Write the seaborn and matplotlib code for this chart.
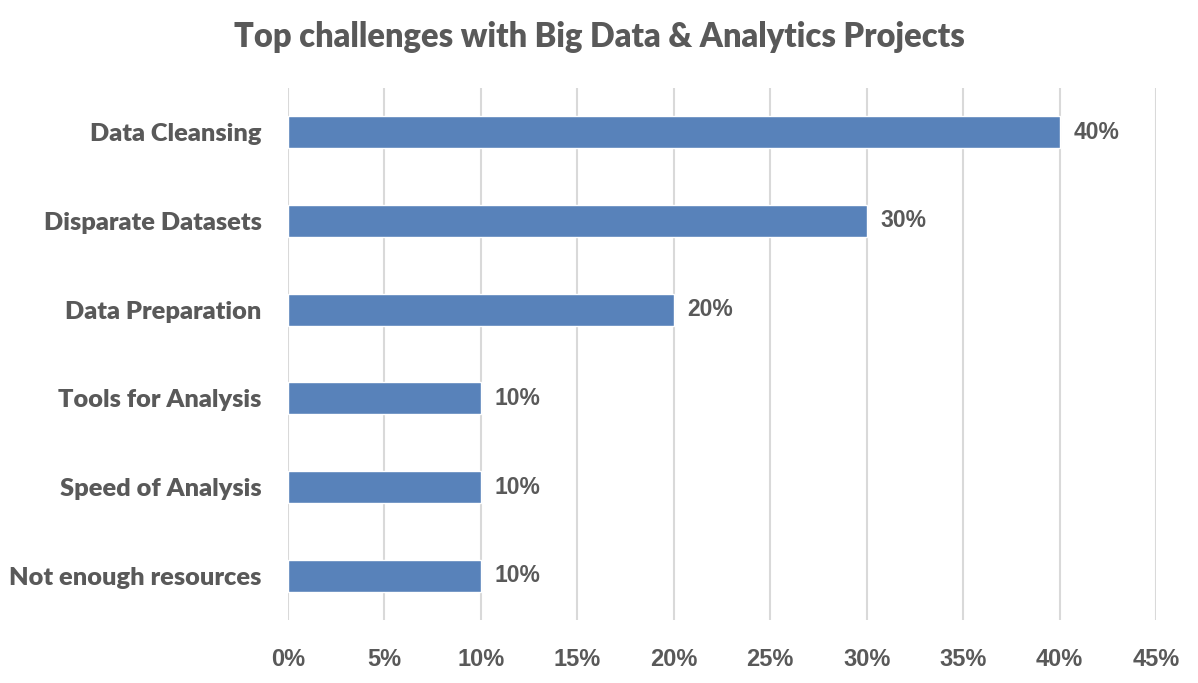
import matplotlib
matplotlib.use("Agg")
import matplotlib.pyplot as plt
import matplotlib.ticker as mticker
import pandas as pd
import seaborn as sns

categories = ["Data Cleansing", "Disparate Datasets", "Data Preparation",
              "Tools for Analysis", "Speed of Analysis", "Not enough resources"]
shares = [40, 30, 20, 10, 10, 10]
x_ticks = [0, 5, 10, 15, 20, 25, 30, 35, 40, 45]
title = "Top challenges with Big Data & Analytics Projects"

text_color = "#595959"
bar_color = "#5882BA"
grid_color = "#D9D9D9"

df = pd.DataFrame({"challenge": categories, "share": shares})

sns.set_theme(style="white")
plt.rcParams["font.family"] = ["Lato", "DejaVu Sans"]

fig = plt.figure(figsize=(11.98, 6.83), dpi=100)
ax = fig.add_axes([0.2404, 0.0922, 0.7246, 0.779])

sns.barplot(data=df, x="share", y="challenge", orient="h", color=bar_color,
            width=0.36, saturation=1, ax=ax, zorder=3)

ax.set_xlim(0, 45)
ax.set_ylim(len(categories) - 0.5, -0.5)
ax.set_xticks(x_ticks)
ax.xaxis.set_major_formatter(mticker.FuncFormatter(lambda v, p: f"{v:.0f}%"))
ax.grid(axis="x", color=grid_color, linewidth=1.5, zorder=0)
ax.grid(axis="y", visible=False)
for s in ax.spines.values():
    s.set_visible(False)
ax.set_xlabel("")
ax.set_ylabel("")
ax.tick_params(axis="both", length=0)
ax.tick_params(axis="x", pad=20)
ax.tick_params(axis="y", pad=19)

for lab in ax.get_xticklabels():
    lab.set_fontfamily(["Liberation Sans", "DejaVu Sans"])
    lab.set_fontweight("bold")
    lab.set_fontsize(17)
    lab.set_color(text_color)
for lab in ax.get_yticklabels():
    lab.set_fontweight("heavy")
    lab.set_fontsize(18.3)
    lab.set_color(text_color)

for cont in ax.containers:
    ax.bar_label(cont, labels=[f"{v}%" for v in shares], padding=10,
                 fontsize=16.5, fontweight="bold", color=text_color,
                 family=["Liberation Sans", "DejaVu Sans"])

fig.text(0.5, 0.946, title, ha="center", va="center", fontsize=23.5,
         fontweight="heavy", color=text_color)

fig.savefig("out.png", dpi=100)
